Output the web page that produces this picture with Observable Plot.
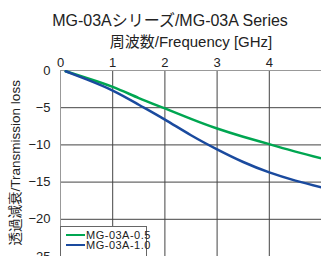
<!DOCTYPE html>
<html><head><meta charset="utf-8">
<script src="https://cdn.jsdelivr.net/npm/d3@7"></script>
<script src="https://cdn.jsdelivr.net/npm/@observablehq/plot@0.6"></script>
<style>
html,body{margin:0;padding:0;overflow:hidden;background:#fff;width:321px;height:256px;}
body{position:relative;font-family:"Liberation Sans","Noto Sans CJK JP",sans-serif;color:#222;}
#title{position:absolute;left:170px;top:7px;transform:translateX(-50%);white-space:nowrap;font-size:16px;}
#chart{position:absolute;left:0;top:0;}
#legend{position:absolute;left:60px;top:226px;width:87px;height:40px;border:1px solid #666;background:#fff;box-sizing:border-box;font-size:11px;line-height:10px;letter-spacing:0.5px;}
#legend .row{position:absolute;left:5px;height:10px;display:flex;align-items:center;white-space:nowrap;}
#legend .sw{display:inline-block;width:19px;height:2.5px;margin-right:1px;}
</style></head>
<body>
<div id="title">MG-03Aシリーズ/MG-03A Series</div>
<div id="chart"></div>
<div id="legend"></div>
<script>
const seriesNames = ["MG-03A-0.5", "MG-03A-1.0"];
const seriesColors = ["#00a651", "#1a4a9e"];
const freq = [0.1, 0.5, 1, 1.5, 2, 2.5, 3, 3.5, 4, 4.5, 5];
const loss05 = [-0.1, -1.0, -2.2, -3.7, -5.1, -6.5, -7.8, -8.9, -9.9, -10.9, -11.8];
const loss10 = [-0.1, -1.2, -2.7, -4.6, -6.6, -8.7, -10.6, -12.3, -13.7, -14.8, -15.7];
const xTicks = [0, 1, 2, 3, 4];
const yTicks = [0, -5, -10, -15, -20, -25];
const xLabel = "周波数/Frequency [GHz]";
const yLabel = "透過減衰/Transmission loss";

const data = [];
freq.forEach((f, i) => {
  data.push({series: seriesNames[0], f, v: loss05[i]});
  data.push({series: seriesNames[1], f, v: loss10[i]});
});

const plot = Plot.plot({
  width: 321,
  height: 266,
  marginTop: 70,
  marginLeft: 60,
  marginRight: 0,
  marginBottom: 10,
  style: {fontFamily: '"Liberation Sans","Noto Sans CJK JP",sans-serif', fontSize: "13px", color: "#222", background: "transparent"},
  x: {domain: [0, 5]},
  y: {domain: [-25, 0]},
  color: {domain: seriesNames, range: seriesColors},
  marks: [
    Plot.gridX(xTicks.slice(1), {stroke: "#444", strokeOpacity: 1}),
    Plot.gridY(yTicks.slice(1), {stroke: "#444", strokeOpacity: 1}),
    Plot.ruleX([0], {stroke: "#999"}),
    Plot.ruleY([0], {stroke: "#999"}),
    Plot.axisX(xTicks, {anchor: "top", tickSize: 0, tickPadding: 4, fontSize: 13, label: null}),
    Plot.axisY(yTicks, {anchor: "left", tickSize: 0, tickPadding: 10, fontSize: 13, label: null}),
    Plot.text([xLabel], {frameAnchor: "top", textAnchor: "middle", lineAnchor: "bottom", dy: -24, fontSize: 15, fill: "#222"}),
    Plot.text([yLabel], {x: () => 0, y: () => -12.4, textAnchor: "middle", lineAnchor: "middle", rotate: -90, dx: -45, fontSize: 13.5, fill: "#222"}),
    Plot.line(data, {x: "f", y: "v", z: "series", stroke: "series", strokeWidth: 2.5, curve: "natural"})
  ]
});
document.getElementById("chart").appendChild(plot);

const legend = document.getElementById("legend");
seriesNames.forEach((name, i) => {
  const row = document.createElement("div");
  row.className = "row";
  row.style.top = (3 + i * 10) + "px";
  const sw = document.createElement("span");
  sw.className = "sw";
  sw.style.background = seriesColors[i];
  const t = document.createElement("span");
  t.textContent = name;
  row.appendChild(sw);
  row.appendChild(t);
  legend.appendChild(row);
});
</script>
</body></html>
